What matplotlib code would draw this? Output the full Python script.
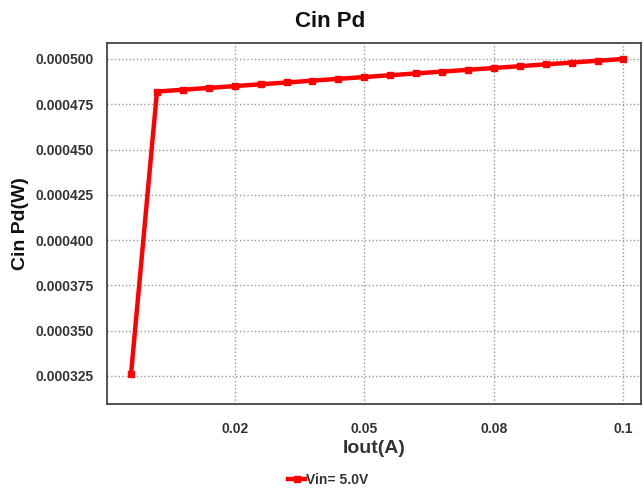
import matplotlib
matplotlib.use('Agg')
import matplotlib.pyplot as plt
from matplotlib.ticker import FixedLocator, FixedFormatter

# --- datos ---
iout = [0.005, 0.01, 0.015, 0.02, 0.025, 0.03, 0.035, 0.04, 0.045, 0.05,
        0.055, 0.06, 0.065, 0.07, 0.075, 0.08, 0.085, 0.09, 0.095, 0.1]
cin_pd = [0.000326, 0.000482, 0.000483, 0.000484, 0.000485, 0.000486, 0.000487,
          0.000488, 0.000489, 0.000490, 0.000491, 0.000492, 0.000493, 0.000494,
          0.000495, 0.000496, 0.000497, 0.000498, 0.000499, 0.000500]
serie_label = 'Vin= 5.0V'

xticks = [0.025, 0.05, 0.075, 0.1]
xtick_labels = ['0.02', '0.05', '0.08', '0.1']
yticks = [0.000325, 0.000350, 0.000375, 0.000400, 0.000425, 0.000450, 0.000475, 0.000500]
ytick_labels = ['0.000325', '0.000350', '0.000375', '0.000400',
                '0.000425', '0.000450', '0.000475', '0.000500']
# --------------

plt.rcParams['font.family'] = ['Liberation Sans', 'DejaVu Sans']
plt.rcParams['font.weight'] = 'bold'

fig = plt.figure(figsize=(6.44, 4.92), dpi=100)
ax = fig.add_axes([0.1654, 0.1789, 0.8300, 0.7337])

ax.plot(iout, cin_pd, color='#ff0000', linewidth=3.2, marker='s', markersize=5,
        label=serie_label, zorder=3)

ax.set_xlim(0.00027, 0.1034)
ax.set_ylim(0.0003095, 0.0005088)

ax.xaxis.set_major_locator(FixedLocator(xticks))
ax.xaxis.set_major_formatter(FixedFormatter(xtick_labels))
ax.yaxis.set_major_locator(FixedLocator(yticks))
ax.yaxis.set_major_formatter(FixedFormatter(ytick_labels))

ax.tick_params(axis='both', length=0, labelsize=10, labelcolor='#333333', pad=9)
ax.tick_params(axis='x', pad=13)
ax.grid(True, linestyle=':', color='#999999', linewidth=1)

for s in ax.spines.values():
    s.set_color('#444444')
    s.set_linewidth(1.3)

# titulo centrado en la figura
fig.text(0.512, 0.957, 'Cin Pd', fontsize=16, fontweight='bold', color='#111111',
         ha='center', va='center')
ax.set_xlabel('Iout(A)', fontsize=14, fontweight='bold', color='#333333', labelpad=3)
ax.set_ylabel('Cin Pd(W)', fontsize=14, fontweight='bold', color='#111111', labelpad=5)

fig.legend(loc='center', bbox_to_anchor=(0.51, 0.025), frameon=False,
           fontsize=10, handlelength=1.2, handletextpad=0.1,
           labelcolor='#333333')

plt.savefig('out.png', dpi=100)
